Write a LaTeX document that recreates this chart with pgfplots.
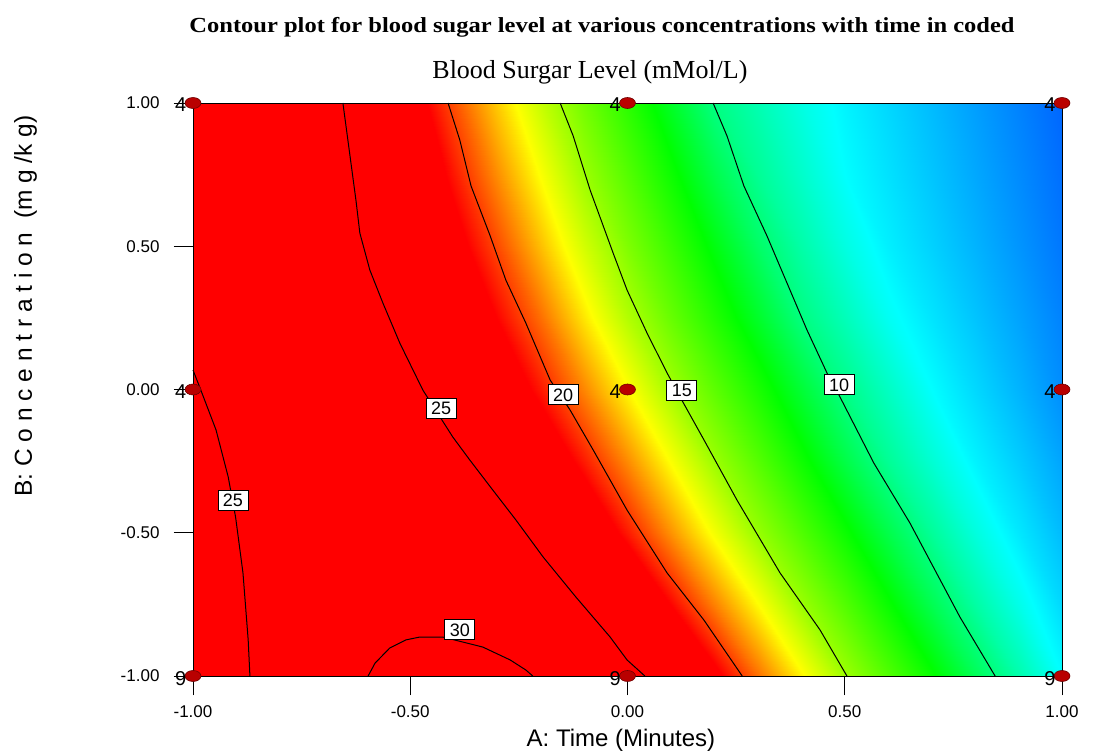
\documentclass[border=0pt]{standalone}
\usepackage{pgfplots}
\pgfplotsset{compat=1.18}
\usepackage{fontspec}
\setmainfont{Liberation Sans}
\newfontfamily\seriffont{Liberation Serif}
\definecolor{ptfill}{RGB}{185,0,0}
\definecolor{ptdraw}{RGB}{110,0,0}
\tikzset{clabel/.style={fill=white, draw=black, line width=0.9pt, inner sep=0pt, minimum width=30pt, minimum height=20pt, font=\fontsize{18}{20}\selectfont}}
\begin{document}
\begin{tikzpicture}
\begin{axis}[
  view={0}{90},
  scale only axis, width=869pt, height=573pt,
  xmin=-1, xmax=1, ymin=-1, ymax=1,
  xtick={-1,-0.5,0,0.5,1}, ytick={-1,-0.5,0,0.5,1}, ztick=\empty,
  tick pos=left,
  tick align=outside,
  major tick length=19pt,
  /pgf/number format/assume math mode=true,
  xticklabel={\pgfmathprintnumber[fixed,fixed zerofill,precision=2]{\tick}},
  yticklabel={\pgfmathprintnumber[fixed,fixed zerofill,precision=2]{\tick}},
  ticklabel style={font=\fontsize{17}{20}\selectfont},
  xticklabel style={yshift=-7pt},
  yticklabel style={xshift=-11pt},
  axis line style={line width=0.9pt},
  every tick/.style={black, line width=0.9pt},
  colormap={dx}{[1pt] rgb255(7pt)=(0,0,255) rgb255(16pt)=(0,255,255) rgb255(24pt)=(0,255,0) rgb255(34pt)=(255,255,0) rgb255(42pt)=(255,0,0) rgb255(62pt)=(255,0,0)},
  point meta min=3.5, point meta max=31,
  clip=false,
]
\addplot3[surf, shader=interp, mesh/cols=21, point meta=z] coordinates {
(-1,1,26.5) (-0.9,1,26.9) (-0.8,1,26.7) (-0.7,1,25.9) (-0.6,1,23.86) (-0.5,1,21.80) (-0.4,1,19.75) (-0.3,1,17.81) (-0.2,1,15.87) (-0.1,1,14.22) (0,1,12.80) (0.1,1,11.38) (0.2,1,9.98) (0.3,1,9.21) (0.4,1,8.45) (0.5,1,7.80) (0.6,1,7.30) (0.7,1,6.80) (0.8,1,6.30) (0.9,1,5.80) (1,1,5.30)
(-1,0.75,26.2) (-0.9,0.75,26.9) (-0.8,0.75,26.8) (-0.7,0.75,26.1) (-0.6,0.75,24.38) (-0.5,0.75,22.52) (-0.4,0.75,20.65) (-0.3,0.75,18.79) (-0.2,0.75,16.92) (-0.1,0.75,15.06) (0,0.75,13.64) (0.1,0.75,12.25) (0.2,0.75,10.85) (0.3,0.75,9.67) (0.4,0.75,8.84) (0.5,0.75,8.00) (0.6,0.75,7.49) (0.7,0.75,6.98) (0.8,0.75,6.47) (0.9,0.75,5.96) (1,0.75,5.45)
(-1,0.5,25.8) (-0.9,0.5,27.0) (-0.8,0.5,27.1) (-0.7,0.5,26.5) (-0.6,0.5,24.97) (-0.5,0.5,23.26) (-0.4,0.5,21.56) (-0.3,0.5,19.85) (-0.2,0.5,17.99) (-0.1,0.5,16.13) (0,0.5,14.47) (0.1,0.5,13.12) (0.2,0.5,11.77) (0.3,0.5,10.42) (0.4,0.5,9.37) (0.5,0.5,8.46) (0.6,0.5,7.73) (0.7,0.5,7.20) (0.8,0.5,6.67) (0.9,0.5,6.13) (1,0.5,5.60)
(-1,0.25,25.4) (-0.9,0.25,27.1) (-0.8,0.25,27.4) (-0.7,0.25,27.0) (-0.6,0.25,25.9) (-0.5,0.25,24.21) (-0.4,0.25,22.60) (-0.3,0.25,20.98) (-0.2,0.25,19.26) (-0.1,0.25,17.38) (0,0.25,15.49) (0.1,0.25,14.01) (0.2,0.25,12.68) (0.3,0.25,11.35) (0.4,0.25,10.01) (0.5,0.25,9.10) (0.6,0.25,8.18) (0.7,0.25,7.54) (0.8,0.25,6.96) (0.9,0.25,6.38) (1,0.25,5.80)
(-1,0,24.9) (-0.9,0,26.5) (-0.8,0,27.5) (-0.7,0,27.6) (-0.6,0,27.0) (-0.5,0,25.5) (-0.4,0,23.86) (-0.3,0,22.25) (-0.2,0,20.64) (-0.1,0,18.90) (0,0,17.06) (0.1,0,15.22) (0.2,0,13.83) (0.3,0,12.51) (0.4,0,11.18) (0.5,0,9.90) (0.6,0,8.95) (0.7,0,8.00) (0.8,0,7.33) (0.9,0,6.67) (1,0,6.00)
(-1,-0.25,24.0) (-0.9,-0.25,25.5) (-0.8,-0.25,27.2) (-0.7,-0.25,28.0) (-0.6,-0.25,28.0) (-0.5,-0.25,27.3) (-0.4,-0.25,25.8) (-0.3,-0.25,23.98) (-0.2,-0.25,22.29) (-0.1,-0.25,20.59) (0,-0.25,18.79) (0.1,-0.25,16.92) (0.2,-0.25,15.06) (0.3,-0.25,13.66) (0.4,-0.25,12.28) (0.5,-0.25,10.90) (0.6,-0.25,9.66) (0.7,-0.25,8.68) (0.8,-0.25,7.79) (0.9,-0.25,7.10) (1,-0.25,6.40)
(-1,-0.5,23.2) (-0.9,-0.5,24.9) (-0.8,-0.5,27.0) (-0.7,-0.5,28.4) (-0.6,-0.5,28.9) (-0.5,-0.5,28.8) (-0.4,-0.5,28.0) (-0.3,-0.5,26.3) (-0.2,-0.5,24.34) (-0.1,-0.5,22.47) (0,-0.5,20.60) (0.1,-0.5,18.71) (0.2,-0.5,16.82) (0.3,-0.5,14.95) (0.4,-0.5,13.58) (0.5,-0.5,12.21) (0.6,-0.5,10.85) (0.7,-0.5,9.60) (0.8,-0.5,8.53) (0.9,-0.5,7.60) (1,-0.5,6.80)
(-1,-0.75,22.5) (-0.9,-0.75,24.6) (-0.8,-0.75,27.0) (-0.7,-0.75,28.8) (-0.6,-0.75,29.6) (-0.5,-0.75,29.8) (-0.4,-0.75,29.6) (-0.3,-0.75,28.5) (-0.2,-0.75,26.9) (-0.1,-0.75,24.90) (0,-0.75,22.93) (0.1,-0.75,20.95) (0.2,-0.75,18.98) (0.3,-0.75,17.01) (0.4,-0.75,15.04) (0.5,-0.75,13.59) (0.6,-0.75,12.15) (0.7,-0.75,10.72) (0.8,-0.75,9.44) (0.9,-0.75,8.33) (1,-0.75,7.30)
(-1,-1,22.0) (-0.9,-1,24.3) (-0.8,-1,27.0) (-0.7,-1,29.0) (-0.6,-1,30.0) (-0.5,-1,30.7) (-0.4,-1,30.8) (-0.3,-1,30.4) (-0.2,-1,29.65) (-0.1,-1,27.7) (0,-1,25.8) (0.1,-1,23.66) (0.2,-1,21.43) (0.3,-1,19.25) (0.4,-1,17.18) (0.5,-1,15.10) (0.6,-1,13.61) (0.7,-1,12.14) (0.8,-1,10.67) (0.9,-1,9.30) (1,-1,8.00)
};
% contour lines
\addplot3[black, line width=1pt] coordinates {(-0.655,1,25) (-0.625,0.661,25) (-0.616,0.546,25) (-0.593,0.417,25) (-0.563,0.302,25) (-0.524,0.162,25) (-0.471,-0.002,25) (-0.402,-0.166,25) (-0.363,-0.246,25) (-0.310,-0.351,25) (-0.257,-0.455,25) (-0.194,-0.585,25) (-0.119,-0.724,25) (-0.040,-0.864,25) (-0.001,-0.944,25) (0.040,-1,25)};
\addplot3[black, line width=1pt] coordinates {(-1,0.068,25) (-0.982,-0.002,25) (-0.947,-0.141,25) (-0.919,-0.305,25) (-0.902,-0.445,25) (-0.885,-0.640,25) (-0.873,-0.874,25) (-0.869,-1,25)};
\addplot3[black, line width=1pt] coordinates {(-0.597,-1,30) (-0.581,-0.955,30) (-0.547,-0.902,30) (-0.510,-0.874,30) (-0.478,-0.864,30) (-0.425,-0.864,30) (-0.333,-0.899,30) (-0.270,-0.944,30) (-0.234,-0.979,30) (-0.218,-1,30)};
\addplot3[black, line width=1pt] coordinates {(-0.413,1,20) (-0.386,0.871,20) (-0.360,0.710,20) (-0.316,0.536,20) (-0.280,0.382,20) (-0.234,0.232,20) (-0.178,0.033,20) (-0.132,-0.072,20) (-0.079,-0.211,20) (-0.001,-0.421,20) (0.091,-0.640,20) (0.176,-0.805,20) (0.264,-1,20)};
\addplot3[black, line width=1pt] coordinates {(-0.155,1,15) (-0.125,0.885,15) (-0.086,0.696,15) (-0.033,0.476,15) (-0.001,0.347,15) (0.045,0.197,15) (0.091,0.058,15) (0.125,-0.037,15) (0.176,-0.176,15) (0.252,-0.386,15) (0.351,-0.640,15) (0.443,-0.839,15) (0.505,-1,15)};
\addplot3[black, line width=1pt] coordinates {(0.197,1,10) (0.229,0.885,10) (0.268,0.710,10) (0.321,0.536,10) (0.367,0.372,10) (0.413,0.208,10) (0.459,0.058,10) (0.489,-0.026,10) (0.567,-0.257,10) (0.650,-0.466,10) (0.765,-0.794,10) (0.846,-1,10)};
% contour labels
\node[clabel] at (axis cs:-0.429,-0.065,25) {25};
\node[clabel] at (axis cs:-0.908,-0.386,25) {25};
\node[clabel] at (axis cs:-0.386,-0.839,30) {30};
\node[clabel] at (axis cs:-0.148,-0.019,20) {20};
\node[clabel] at (axis cs:0.125,-0.002,15) {15};
\node[clabel] at (axis cs:0.487,0.016,10) {10};
% design points
\addplot3[only marks, mark=*, mark size=5.5pt,
  mark options={xscale=1.45, fill=ptfill, draw=ptdraw, line width=0.6pt},
  point meta=explicit symbolic, nodes near coords,
  every node near coord/.style={anchor=base east, xshift=-3pt, yshift=-9pt, font=\fontsize{20}{22}\selectfont, text=black}]
coordinates {(-1,1,30)[4] (0,1,30)[4] (1,1,30)[4] (-1,0,30)[4] (0,0,30)[4] (1,0,30)[4] (-1,-1,30)[9] (0,-1,30)[9] (1,-1,30)[9]};
% titles and axis labels
\node[anchor=base, xscale=1.14, font=\seriffont\bfseries\fontsize{21.5}{24}\selectfont] at (axis description cs:0.4707,1.1222) {Contour plot for blood sugar level at various concentrations with time in coded};
\node[anchor=base, font=\seriffont\fontsize{26}{30}\selectfont] at (axis description cs:0.4568,1.0419) {Blood Surgar Level (mMol/L)};
\node[anchor=base, font=\fontsize{24}{28}\selectfont] at (axis description cs:0.4925,-0.1239) {A: Time (Minutes)};
\node[anchor=base, rotate=90, font=\fontsize{24.5}{28}\selectfont] at (axis description cs:-0.1853,0.6457) {B:\ C o n c e n t r a t i o n\ \ (m g /k g)};
\coordinate (bl) at (rel axis cs:0,0,0);
\end{axis}
\pgfresetboundingbox
\path (bl) ++(-193pt,-77pt) rectangle ++(1103pt,753pt);
\end{tikzpicture}
\end{document}
